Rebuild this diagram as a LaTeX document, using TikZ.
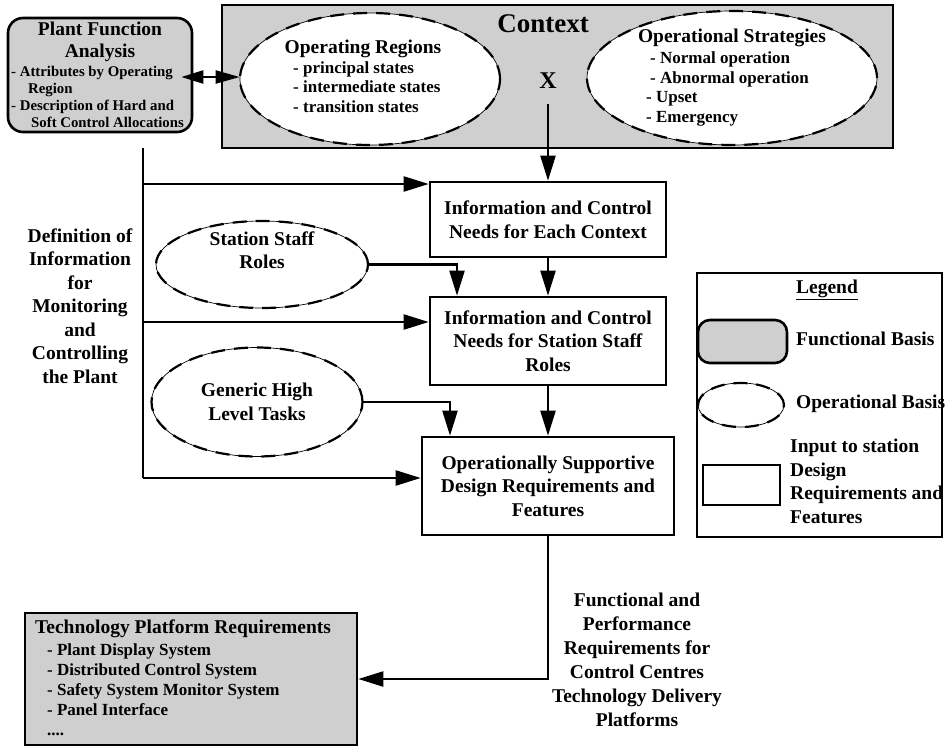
\documentclass[tikz,border=0pt]{standalone}
\usepackage{fontspec}
\setmainfont{Liberation Serif}
\usetikzlibrary{arrows.meta,shapes.geometric}

\definecolor{basisgray}{gray}{0.81}
\newcommand\bigtxt{\bfseries\fontsize{19.5}{23.5}\selectfont}
\newcommand\listtxt{\bfseries\fontsize{17}{19.5}\selectfont}
\newcommand\smalltxt{\bfseries\fontsize{14.8}{17}\selectfont}

\tikzset{
  flow/.style={line width=2.2pt, -{Triangle[length=25pt,width=15pt]}},
  trunk/.style={line width=2.2pt},
  needbox/.style={draw, line width=2.6pt, fill=white, inner sep=0pt, align=center, font=\bigtxt},
  basisbox/.style={draw, line width=2.6pt, fill=basisgray, inner sep=0pt},
  opell/.style={ellipse, draw, fill=white, line width=0.7pt, inner sep=0pt, align=center, font=\bigtxt,
    postaction={draw, line width=2.2pt, dash pattern=on 14pt off 9pt}},
  txt/.style={inner sep=0pt, font=\bigtxt, align=center}
}

\begin{document}
\begin{tikzpicture}[x=1pt,y=-1pt]
    \useasboundingbox (0,0) rectangle (945,747);

    % Context frame
    \node[basisbox, minimum width=671pt, minimum height=143pt] (context) at (557.5,76.5) {};
    \node[txt, font=\bfseries\fontsize{27}{30}\selectfont] (contexttitle) at (543,24) {Context};
    \node[txt, font=\bfseries\fontsize{24}{26}\selectfont] (xmark) at (548,81) {X};

    % Operating regions
    \node[opell, minimum width=260pt, minimum height=132pt] (opreg) at (370,79) {};
    \node[txt, anchor=base] (opregtitle) at (363,53) {Operating Regions};
    \node[anchor=base west, inner sep=0pt, align=left, font=\listtxt] (opreglist) at (293,112)
        {- principal states\\- intermediate states\\- transition states};

    % Operational strategies
    \node[opell, minimum width=290pt, minimum height=134pt] (opstrat) at (732,78) {};
    \node[txt, anchor=base] (opstrattitle) at (732,42) {Operational Strategies};
    \node[anchor=base west, inner sep=0pt, align=left, font=\listtxt] (opstratlist) at (650,122)
        {- Normal operation\\- Abnormal operation\\\hspace*{-4pt}- Upset\\\hspace*{-4pt}- Emergency};

    % Plant function analysis
    \node[basisbox, rounded corners=15pt, minimum width=184pt, minimum height=114pt] (plant) at (100,75) {};
    \node[txt, anchor=base, font=\bfseries\fontsize{19.5}{22}\selectfont] (planttitle) at (100,57)
        {Plant Function\\Analysis};
    \node[anchor=base west, inner sep=0pt, align=left, font=\smalltxt] (plantlist) at (11,127)
        {- Attributes by Operating\\\hspace*{17pt}Region\\- Description of Hard and\\\hspace*{20pt}Soft Control Allocations};
    \coordinate (plantport) at ([xshift=-12pt,yshift=-2pt]plant.east);
    \draw[line width=2.2pt, {Triangle[length=22pt,width=13pt]}-{Triangle[length=24pt,width=13pt]}]
        (plantport) -- (plantport -| opreg.west);

    % Needs boxes
    \node[needbox, minimum width=236pt, minimum height=75pt] (need1) at (548,219.5)
        {Information and Control\\Needs for Each Context};
    \node[needbox, minimum width=236pt, minimum height=88pt] (need2) at (548,341)
        {Information and Control\\Needs for Station Staff\\Roles};
    \node[needbox, minimum width=252pt, minimum height=98pt] (need3) at (548,486)
        {Operationally Supportive\\Design Requirements and\\Features};

    % Operational inputs
    \node[opell, minimum width=212pt, minimum height=87pt] (staff) at (262,264.5) {};
    \node[txt] (stafftxt) at (262,250) {Station Staff\\Roles};
    \node[opell, minimum width=211pt, minimum height=109pt] (tasks) at (257,402) {Generic High\\Level Tasks};

    % Flow down the middle
    \draw[flow] ([yshift=-15pt]xmark.south) -- (need1.north);
    \draw[flow] (need1.south) -- (need2.north);
    \draw[flow] (need2.south) -- (need3.north);
    \coordinate (stafftap) at (457,0);
    \draw[flow] (staff.east) -| (stafftap |- need2.north);
    \coordinate (tasktap) at (450,0);
    \draw[flow] (tasks.east) -| (tasktap |- need3.north);

    % Left trunk
    \coordinate (trunktop) at (143,148);
    \coordinate (t1) at (143,184);
    \coordinate (t2) at (143,322);
    \coordinate (t3) at (143,478);
    \draw[trunk] (trunktop) -- (t3);
    \draw[flow] (t1) -- (t1 -| need1.west);
    \draw[flow] (t2) -- (t2 -| need2.west);
    \draw[flow] (t3) -- (t3 -| need3.west);
    \node[txt] (definition) at (80,306)
        {Definition of\\Information\\for\\Monitoring\\and\\Controlling\\the Plant};

    % Technology platform
    \node[basisbox, minimum width=332pt, minimum height=132pt] (tech) at (191,679) {};
    \node[txt, anchor=base west] (techtitle) at (35,633) {Technology Platform Requirements};
    \node[anchor=base west, inner sep=0pt, align=left, font=\bfseries\fontsize{17}{20}\selectfont] (techlist) at (47,735)
        {- Plant Display System\\- Distributed Control System\\- Safety System Monitor System\\- Panel Interface\\....};
    \draw[flow] (need3.south) |- (tech.east);
    \node[txt, font=\bfseries\fontsize{19.5}{24}\selectfont] (perf) at (637,660)
        {Functional and\\Performance\\Requirements for\\Control Centres\\Technology Delivery\\Platforms};

    % Legend
    \node[draw, line width=2.6pt, minimum width=245pt, minimum height=264pt] (legend) at (819.5,405) {};
    \node[txt, anchor=base] (legendtitle) at (827,293) {\underline{Legend}};
    \node[basisbox, rounded corners=12pt, minimum width=89pt, minimum height=43pt] (legfunc) at (742.5,341.5) {};
    \node[txt, anchor=base west] (legfunctxt) at (796,345) {Functional Basis};
    \node[opell, minimum width=86pt, minimum height=44pt] (legop) at (741,405) {};
    \node[txt, anchor=base west] (legoptxt) at (796,408) {Operational Basis};
    \node[draw, line width=2.2pt, minimum width=77pt, minimum height=40pt] (legneed) at (741.5,485) {};
    \node[txt, anchor=base west, align=left] (legneedtxt) at (790,523)
        {Input to station\\Design\\Requirements and\\Features};
\end{tikzpicture}
\end{document}
